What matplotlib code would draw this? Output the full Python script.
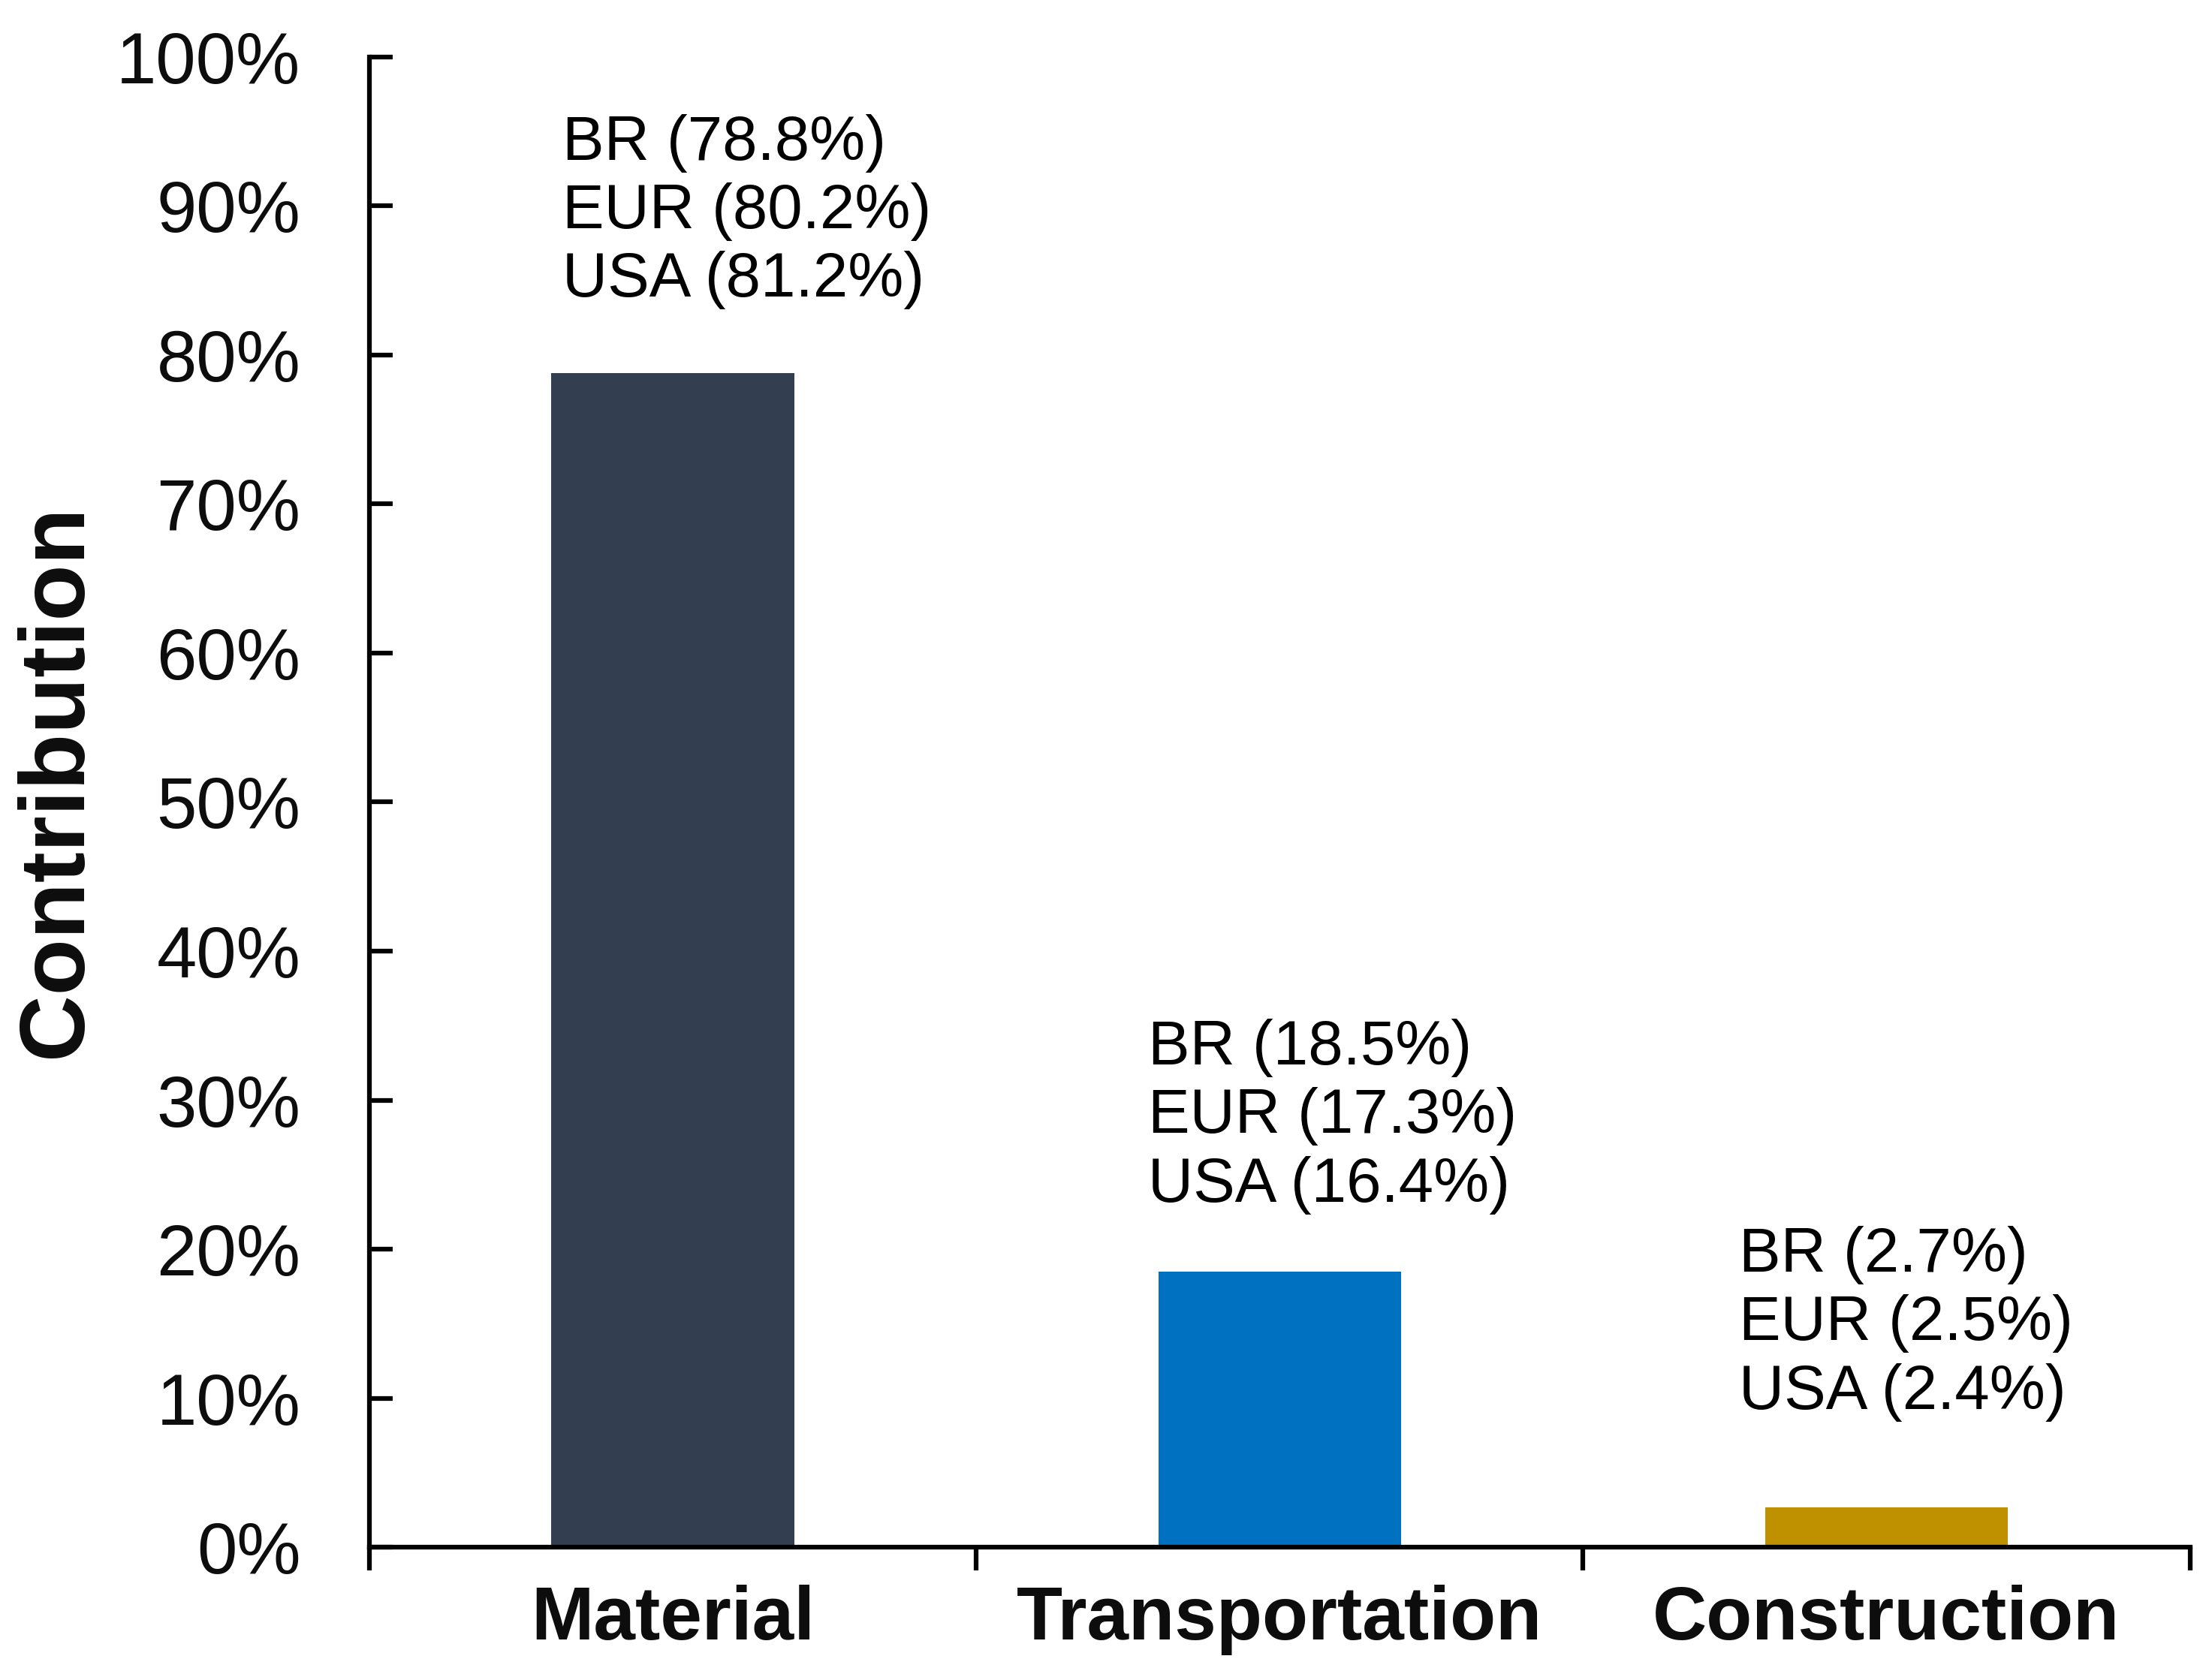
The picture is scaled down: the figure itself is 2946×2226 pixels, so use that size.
import numpy as np
import matplotlib.pyplot as plt
from matplotlib.ticker import PercentFormatter

plt.rcParams['font.family'] = ['Liberation Sans', 'DejaVu Sans']

categories = ['Material', 'Transportation', 'Construction']
br = [78.8, 18.5, 2.7]
eur = [80.2, 17.3, 2.5]
usa = [81.2, 16.4, 2.4]
colors = ['#333F50', '#0070C0', '#BF9000']

# where each text block sits (data coords: x of left edge, y of last baseline)
label_pos = [(0.318, 83.9), (1.283, 23.2), (2.257, 9.3)]

fig = plt.figure(figsize=(9.82, 7.42), dpi=300)
ax = fig.add_axes([0.167, 0.074, 0.823, 0.892])

x = np.arange(len(categories)) + 0.5
ax.bar(x, br, width=0.4, color=colors, zorder=2)

for i in range(len(categories)):
    txt = 'BR (%.1f%%)\nEUR (%.1f%%)\nUSA (%.1f%%)' % (br[i], eur[i], usa[i])
    ax.text(label_pos[i][0], label_pos[i][1], txt, ha='left', va='baseline',
            fontsize=20, linespacing=1.22, color='black')

ax.set_xlim(0, 3)
ax.set_ylim(0, 100)
ax.set_yticks(np.arange(0, 101, 10))
ax.yaxis.set_major_formatter(PercentFormatter(decimals=0))

ax.set_xticks([0, 1, 2, 3])
ax.set_xticklabels([])
ax.set_xticks(x, minor=True)
ax.set_xticklabels(categories, minor=True, fontsize=24, fontweight='bold', color='#0d0d0d')
ax.tick_params(axis='x', which='minor', length=0, pad=12)
ax.tick_params(axis='x', which='major', direction='out', length=7.5, width=1.5)
ax.tick_params(axis='y', direction='in', length=7.5, width=1.5, labelsize=23, pad=22,
               labelcolor='#0d0d0d')

for s in ['top', 'right']:
    ax.spines[s].set_visible(False)
for s in ['left', 'bottom']:
    ax.spines[s].set_linewidth(1.5)

ax.set_ylabel('Contribution', fontsize=29.5, fontweight='bold', color='#0d0d0d')
ax.yaxis.set_label_coords(-0.148, 0.514)

fig.savefig('out.png', dpi=300)
